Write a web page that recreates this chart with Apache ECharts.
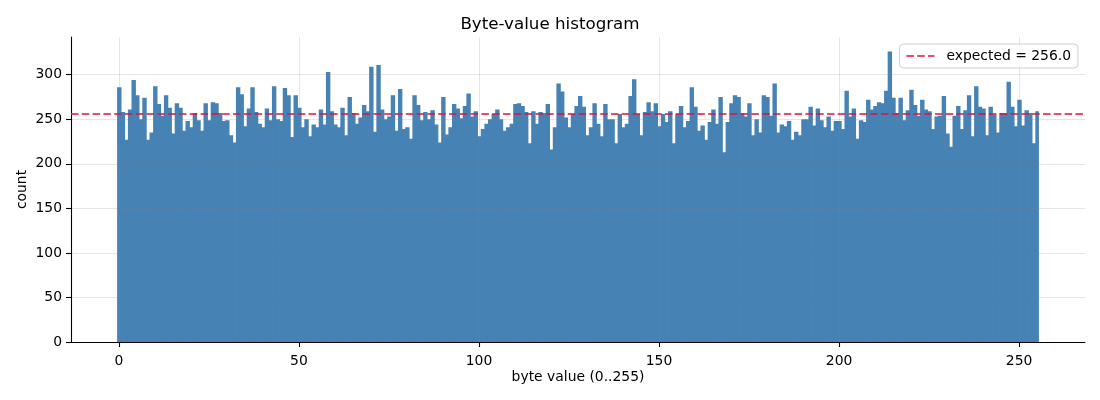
<!DOCTYPE html>
<html lang="en">
<head>
  <meta charset="UTF-8" />
  <title>Byte-value histogram</title>
  <script src="https://cdn.jsdelivr.net/npm/echarts@6/dist/echarts.min.js"></script>
  <style>
    html, body { margin: 0; padding: 0; background: #fff; }
  </style>
</head>
<body>
  <div id="main" style="width: 1100px;height:400px;"></div>
  <script type="text/javascript">
    // counts per byte value, index = byte value 0..255
    var counts = [
      286, 258, 227, 261, 294, 277, 250, 274, 227, 235, 287, 267, 254, 277, 263, 234,
      268, 263, 237, 248, 241, 257, 249, 237, 268, 249, 269, 268, 257, 248, 249, 232,
      224, 286, 278, 242, 262, 286, 258, 245, 241, 262, 249, 287, 250, 248, 285, 277,
      230, 277, 263, 241, 250, 231, 244, 241, 261, 244, 303, 259, 244, 241, 263, 232,
      275, 257, 245, 252, 266, 259, 309, 236, 311, 261, 250, 253, 277, 237, 284, 239,
      241, 228, 277, 266, 249, 258, 250, 260, 244, 224, 275, 233, 241, 267, 262, 251,
      265, 279, 253, 259, 231, 239, 245, 250, 256, 261, 250, 237, 241, 245, 267, 268,
      265, 258, 223, 259, 245, 258, 257, 267, 216, 241, 290, 281, 252, 241, 256, 265,
      276, 264, 232, 241, 268, 245, 231, 267, 250, 250, 223, 256, 241, 245, 276, 295,
      256, 232, 258, 269, 259, 268, 242, 256, 247, 259, 223, 256, 265, 241, 248, 286,
      264, 237, 243, 227, 247, 261, 245, 275, 213, 247, 268, 277, 275, 257, 253, 268,
      232, 250, 235, 277, 275, 254, 290, 235, 244, 242, 248, 227, 236, 232, 250, 250,
      264, 243, 262, 249, 241, 253, 237, 248, 248, 239, 282, 253, 262, 228, 249, 247,
      272, 261, 265, 269, 268, 282, 326, 274, 257, 274, 249, 260, 283, 266, 254, 272,
      261, 259, 239, 253, 254, 276, 234, 219, 254, 265, 239, 260, 277, 231, 287, 264,
      262, 232, 264, 255, 235, 257, 257, 292, 264, 242, 272, 243, 260, 257, 223, 259
    ]
    var expectedCount = 256.0
    var xTicks = [0, 50, 100, 150, 200, 250]
    var yTicks = [0, 50, 100, 150, 200, 250, 300]

    // axis limits like matplotlib's 5% margins
    var xMin = -13.3
    var xMax = 268.3
    var yMax = 342.3

    var histData = counts.map(function (c, i) { return [i, c] })
    var expectedName = 'expected = ' + expectedCount.toFixed(1)

    var myChart = echarts.init(document.getElementById('main'))

    var fontFamily = 'DejaVu Sans'
    var gridColor = 'rgba(128,128,128,0.2)'
    var barColor = '#4682b4'
    var lineColor = '#dc143c'
    // dashed legend handle
    var dashIcon = 'path://M0,0H7.5V1.5H0Z M10.8,0H18.3V1.5H10.8Z M21.6,0H28V1.5H21.6Z'

    var option = {
      animation: false,
      backgroundColor: '#fff',
      textStyle: { fontFamily: fontFamily },
      title: {
        text: 'Byte-value histogram',
        left: 'center',
        top: 16,
        padding: 0,
        textStyle: { fontFamily: fontFamily, fontSize: 16.7, fontWeight: 'normal', color: '#000' }
      },
      legend: {
        data: [{ name: expectedName, icon: dashIcon }],
        right: 22,
        top: 44,
        padding: [5, 7, 5, 7],
        borderColor: '#d0d0d0',
        borderWidth: 1,
        borderRadius: 4,
        backgroundColor: 'rgba(255,255,255,0.8)',
        itemWidth: 28,
        itemHeight: 1.5,
        itemStyle: { color: lineColor, borderWidth: 0 },
        textStyle: { fontFamily: fontFamily, fontSize: 13.9, color: '#000', padding: [0, 0, 0, 7] }
      },
      grid: { left: 71, right: 15, top: 37, bottom: 58 },
      xAxis: {
        type: 'value',
        min: xMin,
        max: xMax,
        z: 3,
        name: 'byte value (0..255)',
        nameLocation: 'middle',
        nameGap: 28,
        nameMoveOverlap: false,
        nameTextStyle: { fontFamily: fontFamily, fontSize: 13.9, color: '#000' },
        axisLine: { show: true, onZero: false, lineStyle: { color: '#000', width: 1.1 } },
        axisTick: { show: true, length: 5, customValues: xTicks, lineStyle: { color: '#000', width: 1.1 } },
        axisLabel: { customValues: xTicks, margin: 12, fontSize: 13.9, color: '#000', fontFamily: fontFamily },
        splitLine: { show: true, lineStyle: { color: gridColor, width: 1 } }
      },
      yAxis: {
        type: 'value',
        min: 0,
        max: yMax,
        z: 3,
        name: 'count',
        nameLocation: 'middle',
        nameGap: 42,
        nameMoveOverlap: false,
        nameTextStyle: { fontFamily: fontFamily, fontSize: 13.9, color: '#000' },
        axisLine: { show: true, onZero: false, lineStyle: { color: '#000', width: 1.1 } },
        axisTick: { show: true, length: 5, customValues: yTicks, lineStyle: { color: '#000', width: 1.1 } },
        axisLabel: { customValues: yTicks, margin: 9, fontSize: 13.9, color: '#000', fontFamily: fontFamily },
        splitLine: { show: true, lineStyle: { color: gridColor, width: 1 } }
      },
      series: [{
        name: 'counts',
        type: 'custom',
        z: 1,
        encode: { x: 0, y: 1 },
        data: histData,
        // one rect per byte value, one bin wide (slight overlap hides seams)
        renderItem: function (params, api) {
          var x = api.value(0)
          var y = api.value(1)
          var p0 = api.coord([x - 0.5, y])
          var p1 = api.coord([x + 0.5, 0])
          var isLast = params.dataIndex === counts.length - 1
          return {
            type: 'rect',
            shape: {
              x: p0[0],
              y: p0[1],
              width: p1[0] - p0[0] + (isLast ? 0 : 0.8),
              height: p1[1] - p0[1]
            },
            style: { fill: barColor }
          }
        }
      }, {
        name: expectedName,
        type: 'line',
        z: 5,
        symbol: 'none',
        silent: true,
        data: [[xMin, expectedCount], [xMax, expectedCount]],
        lineStyle: { color: lineColor, width: 1.5, type: [7.5, 3.3] },
        itemStyle: { color: lineColor }
      }]
    }

    myChart.setOption(option)
  </script>
</body>
</html>
